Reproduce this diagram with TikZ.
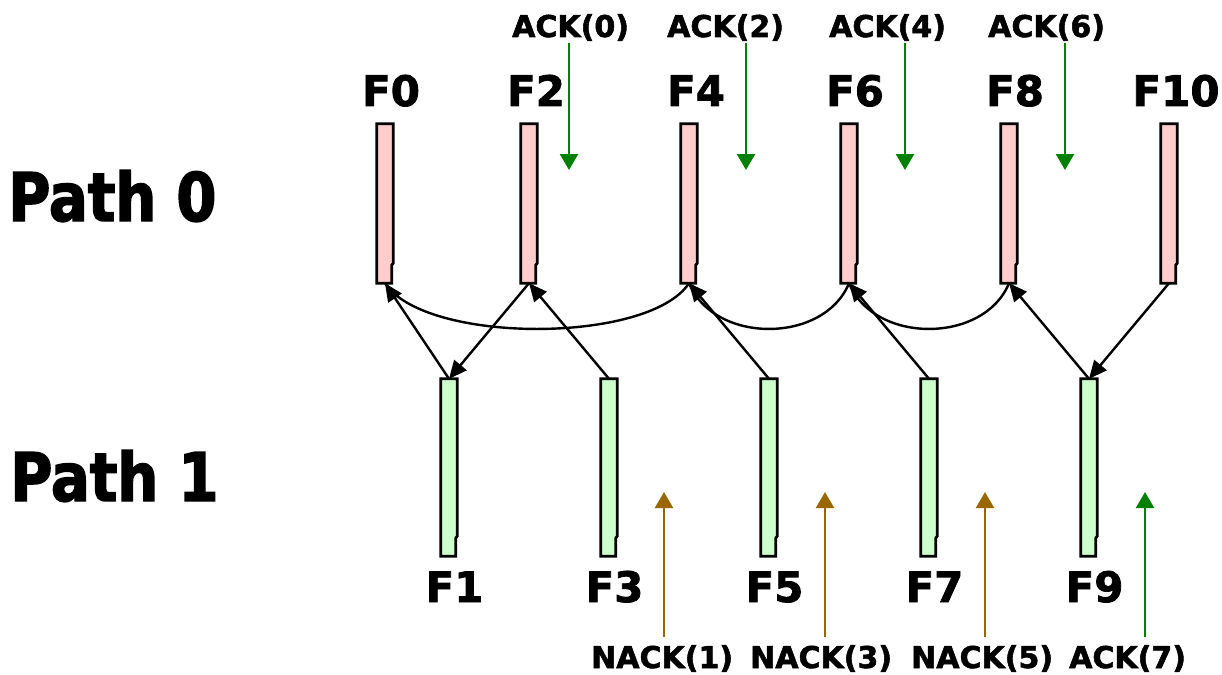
\documentclass[tikz,border=0pt]{standalone}
\usepackage{fontspec}
\setmainfont{DejaVu Sans}[BoldFeatures={FakeBold=1.8}]
\newfontfamily\pathfont{DejaVu Sans}[FakeStretch=0.86, BoldFeatures={FakeBold=2.2}]
\usetikzlibrary{arrows.meta}

\definecolor{frame0}{RGB}{255,204,204}
\definecolor{frame1}{RGB}{204,255,204}
\definecolor{ackgreen}{RGB}{0,128,0}
\definecolor{nackbrown}{RGB}{153,102,0}

\tikzstyle{bar}=[
    inner sep=0pt,
    minimum width=16pt,
  ]
\tikzstyle{baredge}=[
    line width=2.8pt,
    line join=miter,
  ]
\tikzstyle{flabel}=[
    anchor=base,
    inner sep=0pt,
    font=\bfseries\fontsize{42}{42}\selectfont,
  ]
\tikzstyle{acklabel}=[
    anchor=base west,
    inner sep=0pt,
    font=\bfseries\fontsize{30}{30}\selectfont,
  ]
\tikzstyle{pathlabel}=[
    anchor=base west,
    inner sep=0pt,
    font=\pathfont\bfseries\fontsize{67}{67}\selectfont,
  ]
\tikzstyle{dep}=[
    -{Triangle[length=18pt,width=16pt]},
    line width=2.4pt,
  ]
\tikzstyle{resend}=[
    line width=2.4pt,
  ]
\tikzstyle{ack}=[
    -{Triangle[length=16pt,width=18pt]},
    line width=2.2pt,
    ackgreen,
  ]
\tikzstyle{nack}=[
    ack,
    nackbrown,
  ]

\begin{document}
\begin{tikzpicture}[x=1pt,y=-1pt]
      \useasboundingbox (0,0) rectangle (1222,674);
      \node[pathlabel] (p0) at (8,221) {Path 0};
      \node[pathlabel] (p1) at (10,501) {Path 1};

      % frames on path 0
      \foreach \i/\x/\lx in {0/385/391, 2/529/536, 4/689/696, 6/849/855, 8/1009/1015, 10/1169/1176} {%
        \node[bar, minimum height=159pt] (f\i) at (\x, 203.5) {};
        \filldraw[baredge, fill=frame0] (f\i.south west) -- (f\i.north west) -- (f\i.north east)
          -- ([yshift=20pt]f\i.south east) -- ([xshift=-1.5pt,yshift=18pt]f\i.south east)
          -- ([xshift=-1.5pt]f\i.south east) -- cycle;
        \node[flabel] (l\i) at (\lx, 106) {F\i};
      }
      % frames on path 1
      \foreach \i/\x in {1/449, 3/609, 5/769, 7/929, 9/1089} {%
        \node[bar, minimum height=177pt] (f\i) at (\x, 467.5) {};
        \filldraw[baredge, fill=frame1] (f\i.south west) -- (f\i.north west) -- (f\i.north east)
          -- ([yshift=20pt]f\i.south east) -- ([xshift=-1.5pt,yshift=18pt]f\i.south east)
          -- ([xshift=-1.5pt]f\i.south east) -- cycle;
        \node[flabel] (l\i) at (\x+5.5, 602) {F\i};
      }

      \draw[dep] (f1.north) -- (f0.south);
      \draw[dep] (f2.south) -- (f1.north);
      \draw[dep] (f3.north) -- (f2.south);
      \draw[dep] (f5.north) -- (f4.south);
      \draw[dep] (f7.north) -- (f6.south);
      \draw[dep] (f9.north) -- (f8.south);
      \draw[dep] (f10.south) -- (f9.north);
      \draw[resend] (f4.south) .. controls +(-40,61) and +(40,61) .. (f0.south);
      \draw[resend] (f6.south) .. controls +(-25,61) and +(25,61) .. (f4.south);
      \draw[resend] (f8.south) .. controls +(-25,61) and +(25,61) .. (f6.south);

      % acks coming back
      \foreach \i/\lx/\ax in {0/512/569, 2/667/746, 4/829/905, 6/988/1065} {%
        \node[acklabel] (a\i) at (\lx, 37) {ACK(\i)};
        \coordinate (at\i) at (\ax, 170);
        \draw[ack, shorten <=2pt] (a\i.south -| at\i) -- (at\i);
      }
      \foreach \i/\t/\lx/\ax/\s in {1/NACK/591/664/nack, 3/NACK/750/825/nack, 5/NACK/911/985/nack, 7/ACK/1069/1145/ack} {%
        \node[acklabel] (n\i) at (\lx, 668) {\t(\i)};
        \coordinate (nt\i) at (\ax, 492);
        \draw[\s, shorten <=8pt] (n\i.north -| nt\i) -- (nt\i);
      }
    \end{tikzpicture}
\end{document}
